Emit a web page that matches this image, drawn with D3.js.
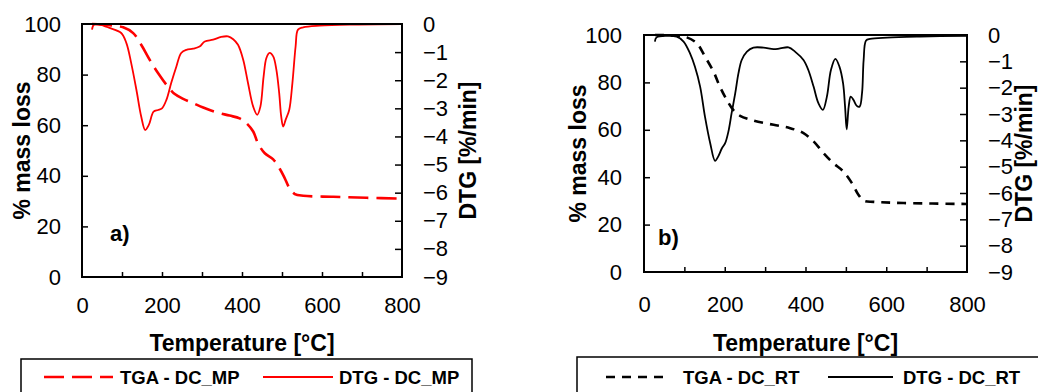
<!DOCTYPE html>
<html><head><meta charset="utf-8">
<script src="https://cdn.jsdelivr.net/npm/d3@7"></script>
<style>
body{margin:0;background:#fff;}
svg{display:block;}
text{font-family:"Liberation Sans",Arial,sans-serif;fill:#000;}
</style></head>
<body>
<svg id="chart" width="1038" height="392"></svg>
<script>
// ---------- DATA ----------
const xTickLabels = [0, 200, 400, 600, 800];
const massTicks = [0, 20, 40, 60, 80, 100];
const dtgTicks = [0, -1, -2, -3, -4, -5, -6, -7, -8, -9];

// Panel a) DC_MP
const tgaA_T = [25, 69, 103, 128, 148, 169, 190, 211, 232, 253, 278, 303, 336, 369, 394, 411, 428, 440, 457, 478, 494, 507, 519, 532, 553, 628, 711, 800];
const tgaA_V = [100, 99.5, 98.7, 96.4, 91.8, 85.9, 80.6, 76.0, 72.3, 70.4, 68.7, 67.0, 65.1, 63.8, 62.7, 60.8, 57.5, 52.8, 48.9, 46.5, 42.9, 39.0, 35.0, 32.8, 32.1, 31.7, 31.3, 31.0];
const dtgA_T = [25, 30, 44, 69, 98, 111, 123, 136, 148, 158, 167, 179, 190, 200, 211, 223, 236, 248, 261, 278, 294, 307, 328, 348, 365, 378, 390, 403, 415, 428, 438, 446, 454, 461, 469, 478, 486, 493, 498, 503, 509, 518, 526, 534, 540, 553, 594, 669, 800];
const dtgA_V = [-0.2, -0.02, -0.02, -0.14, -0.32, -0.68, -1.39, -2.34, -3.29, -3.77, -3.59, -3.12, -3.06, -3.0, -2.70, -2.10, -1.51, -1.03, -0.92, -0.88, -0.80, -0.62, -0.56, -0.46, -0.44, -0.54, -0.74, -1.27, -2.10, -2.94, -3.23, -2.94, -1.87, -1.21, -1.03, -1.15, -1.63, -2.46, -3.29, -3.65, -3.41, -3.06, -2.10, -0.80, -0.20, -0.12, -0.06, -0.02, 0];

// Panel b) DC_RT
const tgaB_T = [27, 81, 106, 131, 151, 172, 188, 205, 221, 238, 271, 321, 362, 395, 420, 445, 469, 494, 515, 531, 544, 569, 643, 800];
const tgaB_V = [100, 99.7, 99.0, 96.5, 90.9, 84.6, 78.2, 72.6, 68.4, 65.9, 63.9, 62.1, 60.7, 58.6, 55.1, 50.1, 45.9, 42.4, 37.5, 32.6, 30.1, 29.6, 29.1, 28.7];
const dtgB_T = [27, 31, 56, 81, 98, 114, 126, 139, 151, 164, 176, 184, 193, 201, 209, 217, 226, 234, 242, 255, 271, 296, 321, 337, 358, 374, 395, 407, 420, 432, 443, 453, 463, 474, 484, 493, 498, 502, 507, 512, 519, 527, 534, 540, 544, 550, 560, 602, 684, 800];
const dtgB_V = [-0.25, -0.09, -0.03, -0.06, -0.25, -0.70, -1.20, -1.96, -3.10, -4.11, -4.78, -4.61, -4.30, -4.11, -3.67, -2.97, -2.21, -1.45, -0.95, -0.63, -0.48, -0.48, -0.54, -0.51, -0.47, -0.63, -0.95, -1.33, -1.96, -2.59, -2.84, -2.34, -1.33, -0.91, -1.20, -1.83, -2.72, -3.58, -2.72, -2.34, -2.47, -2.69, -2.72, -2.21, -0.95, -0.21, -0.15, -0.10, -0.06, -0.03];

const legendA = ["TGA - DC_MP", "DTG - DC_MP"];
const legendB = ["TGA - DC_RT", "DTG - DC_RT"];
const panelLabels = ["a)", "b)"];
const xTitle = "Temperature [°C]";
const yTitle = "% mass loss";
const y2Title = "DTG [%/min]";

// ---------- DRAW ----------
const svg = d3.select("#chart");

function drawPanel(p) {
  const g = svg.append("g");
  const x = d3.scaleLinear().domain([0, 800]).range([p.left, p.right]);
  const y = d3.scaleLinear().domain([0, 100]).range([p.bottom, p.top]);
  const y2 = d3.scaleLinear().domain([-9, 0]).range([p.bottom, p.top]);

  const clipId = "clip" + p.id;
  svg.append("clipPath").attr("id", clipId).append("rect")
    .attr("x", p.left).attr("y", p.top - 2).attr("width", p.right - p.left).attr("height", p.bottom - p.top + 2);

  // axes
  const xAxis = d3.axisBottom(x).tickValues(d3.range(0, 801, 100)).tickSize(-5).tickPadding(p.xPad)
    .tickFormat(d => xTickLabels.includes(d) ? d : "");
  const gx = g.append("g").attr("transform", `translate(0,${p.bottom})`).call(xAxis);
  const yAxis = d3.axisLeft(y).tickValues(massTicks).tickSize(-6).tickPadding(p.yPad);
  const gy = g.append("g").attr("transform", `translate(${p.left},0)`).call(yAxis);
  const y2Axis = d3.axisRight(y2).tickValues(dtgTicks).tickSize(-7).tickPadding(p.y2Pad);
  const gy2 = g.append("g").attr("transform", `translate(${p.right},0)`).call(y2Axis);
  [gx, gy, gy2].forEach(a => {
    a.select(".domain").remove();
    a.selectAll(".tick line").attr("stroke", "#000").attr("stroke-width", 1.5);
    a.selectAll("text").style("font-size", "22px").style("font-family", '"Liberation Sans",Arial,sans-serif').attr("fill", "#000");
  });
  gx.selectAll(".tick").filter(d => d === 0 || d === 800).select("line").remove();
  gy.selectAll(".tick").filter(d => d === 0 || d === 100).select("line").remove();
  gy2.selectAll(".tick").filter(d => d === 0 || d === -9).select("line").remove();

  // lines
  const lineT = d3.line().x(d => x(d[0])).y(d => y(d[1])).curve(d3.curveCatmullRom.alpha(0.5));
  const lineD = d3.line().x(d => x(d[0])).y(d => y2(d[1])).curve(d3.curveCatmullRom.alpha(0.5));
  const tga = d3.zip(p.tgaT, p.tgaV);
  const dtg = d3.zip(p.dtgT, p.dtgV);
  const lg = g.append("g").attr("clip-path", `url(#${clipId})`);
  lg.append("path").datum(tga).attr("d", lineT).attr("fill", "none")
    .attr("stroke", p.color).attr("stroke-width", 2.6).attr("stroke-dasharray", p.dash);
  lg.append("path").datum(dtg).attr("d", lineD).attr("fill", "none")
    .attr("stroke", p.color).attr("stroke-width", 1.8);

  // frame
  g.append("rect").attr("x", p.left).attr("y", p.top).attr("width", p.right - p.left).attr("height", p.bottom - p.top)
    .attr("fill", "none").attr("stroke", "#000").attr("stroke-width", 2);

  // titles
  g.append("text").attr("x", (p.left + p.right) / 2).attr("y", 351).attr("text-anchor", "middle")
    .style("font-size", "23px").style("font-weight", "bold").text(xTitle);
  g.append("text").attr("transform", `translate(${p.yTitleX},${(p.top + p.bottom) / 2}) rotate(-90)`)
    .attr("text-anchor", "middle").attr("dy", "0.36em").style("font-size", "23px").style("font-weight", "bold").text(yTitle);
  g.append("text").attr("transform", `translate(${p.y2TitleX},${(p.top + p.bottom) / 2}) rotate(-90)`)
    .attr("text-anchor", "middle").attr("dy", "0.36em").style("font-size", "23px").style("font-weight", "bold").text(y2Title);
  g.append("text").attr("x", p.labX).attr("y", p.labY).style("font-size", "22px").style("font-weight", "bold").text(p.label);

  // legend
  g.append("rect").attr("x", p.legX0).attr("y", p.legY).attr("width", p.legX1 - p.legX0).attr("height", 60)
    .attr("fill", "#fff").attr("stroke", "#000").attr("stroke-width", 1.5);
  const ly = 377;
  g.append("line").attr("x1", p.leg[0][0]).attr("x2", p.leg[0][1]).attr("y1", ly).attr("y2", ly)
    .attr("stroke", p.color).attr("stroke-width", 2.6).attr("stroke-dasharray", p.dash);
  g.append("text").attr("x", p.leg[0][2]).attr("y", 383.5).style("font-size", "18.5px").style("font-weight", "bold").text(p.legend[0]);
  g.append("line").attr("x1", p.leg[1][0]).attr("x2", p.leg[1][1]).attr("y1", ly).attr("y2", ly)
    .attr("stroke", p.color).attr("stroke-width", 1.8);
  g.append("text").attr("x", p.leg[1][2]).attr("y", 383.5).style("font-size", "18.5px").style("font-weight", "bold").text(p.legend[1]);
}

drawPanel({
  id: "A", left: 82, right: 402, top: 24, bottom: 277, color: "#ff0000", dash: "20,8",
  tgaT: tgaA_T, tgaV: tgaA_V, dtgT: dtgA_T, dtgV: dtgA_V,
  xPad: 20, yPad: 21, y2Pad: 21, yTitleX: 22, y2TitleX: 468,
  label: panelLabels[0], labX: 110, labY: 241,
  legX0: 21, legX1: 472, legY: 359, legend: legendA,
  leg: [[44, 113, 120], [263, 333, 339]]
});
drawPanel({
  id: "B", left: 644, right: 967, top: 35, bottom: 272, color: "#000000", dash: "9,7",
  tgaT: tgaB_T, tgaV: tgaB_V, dtgT: dtgB_T, dtgV: dtgB_V,
  xPad: 24, yPad: 22, y2Pad: 21, yTitleX: 578, y2TitleX: 1024,
  label: panelLabels[1], labX: 658, labY: 245,
  legX0: 577, legX1: 1050, legY: 357, legend: legendB,
  leg: [[606, 667, 683], [828, 893, 903]]
});
</script>
</body></html>
